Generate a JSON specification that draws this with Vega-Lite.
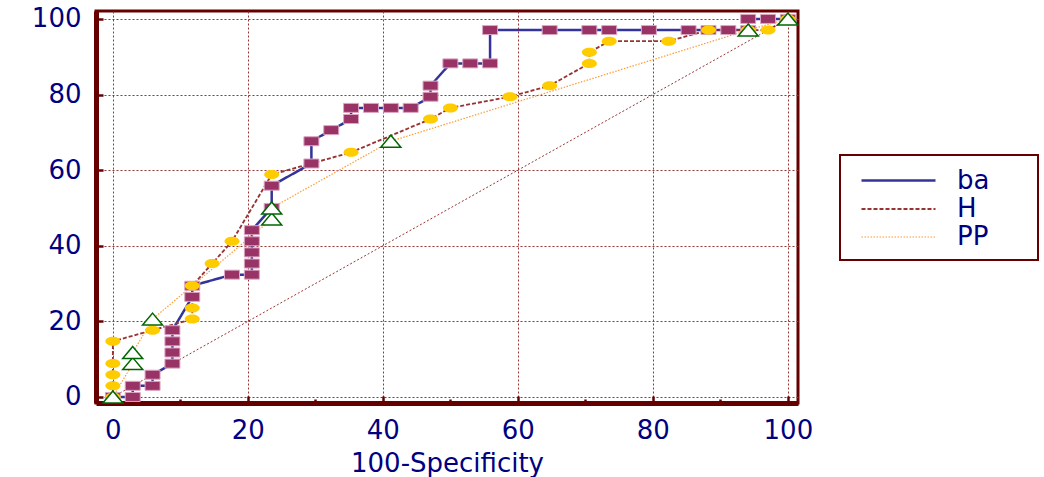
{
  "$schema": "https://vega.github.io/schema/vega-lite/v6.json",
  "width": 702,
  "height": 392,
  "autosize": {"type": "none"},
  "padding": {"left": 96, "top": 11, "right": 246, "bottom": 74},
  "background": "white",
  "datasets": {
    "roc": [
      {"series": "ba", "i": 0, "x": 0, "y": 0},
      {"series": "ba", "i": 1, "x": 2.94, "y": 0},
      {"series": "ba", "i": 2, "x": 2.94, "y": 2.94},
      {"series": "ba", "i": 3, "x": 5.88, "y": 2.94},
      {"series": "ba", "i": 4, "x": 5.88, "y": 5.88},
      {"series": "ba", "i": 5, "x": 8.82, "y": 8.82},
      {"series": "ba", "i": 6, "x": 8.82, "y": 11.76},
      {"series": "ba", "i": 7, "x": 8.82, "y": 14.71},
      {"series": "ba", "i": 8, "x": 8.82, "y": 17.65},
      {"series": "ba", "i": 9, "x": 11.76, "y": 26.47},
      {"series": "ba", "i": 10, "x": 11.76, "y": 29.41},
      {"series": "ba", "i": 11, "x": 17.65, "y": 32.35},
      {"series": "ba", "i": 12, "x": 20.59, "y": 32.35},
      {"series": "ba", "i": 13, "x": 20.59, "y": 35.29},
      {"series": "ba", "i": 14, "x": 20.59, "y": 38.24},
      {"series": "ba", "i": 15, "x": 20.59, "y": 41.18},
      {"series": "ba", "i": 16, "x": 20.59, "y": 44.12},
      {"series": "ba", "i": 17, "x": 23.53, "y": 50},
      {"series": "ba", "i": 18, "x": 23.53, "y": 55.88},
      {"series": "ba", "i": 19, "x": 29.41, "y": 61.76},
      {"series": "ba", "i": 20, "x": 29.41, "y": 67.65},
      {"series": "ba", "i": 21, "x": 32.35, "y": 70.59},
      {"series": "ba", "i": 22, "x": 35.29, "y": 73.53},
      {"series": "ba", "i": 23, "x": 35.29, "y": 76.47},
      {"series": "ba", "i": 24, "x": 38.24, "y": 76.47},
      {"series": "ba", "i": 25, "x": 41.18, "y": 76.47},
      {"series": "ba", "i": 26, "x": 44.12, "y": 76.47},
      {"series": "ba", "i": 27, "x": 47.06, "y": 79.41},
      {"series": "ba", "i": 28, "x": 47.06, "y": 82.35},
      {"series": "ba", "i": 29, "x": 50, "y": 88.24},
      {"series": "ba", "i": 30, "x": 52.94, "y": 88.24},
      {"series": "ba", "i": 31, "x": 55.88, "y": 88.24},
      {"series": "ba", "i": 32, "x": 55.88, "y": 97.06},
      {"series": "ba", "i": 33, "x": 64.71, "y": 97.06},
      {"series": "ba", "i": 34, "x": 70.59, "y": 97.06},
      {"series": "ba", "i": 35, "x": 73.53, "y": 97.06},
      {"series": "ba", "i": 36, "x": 79.41, "y": 97.06},
      {"series": "ba", "i": 37, "x": 85.29, "y": 97.06},
      {"series": "ba", "i": 38, "x": 88.24, "y": 97.06},
      {"series": "ba", "i": 39, "x": 91.18, "y": 97.06},
      {"series": "ba", "i": 40, "x": 94.12, "y": 97.06},
      {"series": "ba", "i": 41, "x": 94.12, "y": 100},
      {"series": "ba", "i": 42, "x": 97.06, "y": 100},
      {"series": "ba", "i": 43, "x": 100, "y": 100},
      {"series": "H", "i": 0, "x": 0, "y": 0},
      {"series": "H", "i": 1, "x": 0, "y": 2.94},
      {"series": "H", "i": 2, "x": 0, "y": 5.88},
      {"series": "H", "i": 3, "x": 0, "y": 8.82},
      {"series": "H", "i": 4, "x": 0, "y": 14.71},
      {"series": "H", "i": 5, "x": 5.88, "y": 17.65},
      {"series": "H", "i": 6, "x": 11.76, "y": 20.59},
      {"series": "H", "i": 7, "x": 11.76, "y": 23.53},
      {"series": "H", "i": 8, "x": 11.76, "y": 29.41},
      {"series": "H", "i": 9, "x": 14.71, "y": 35.29},
      {"series": "H", "i": 10, "x": 17.65, "y": 41.18},
      {"series": "H", "i": 11, "x": 23.53, "y": 58.82},
      {"series": "H", "i": 12, "x": 35.29, "y": 64.71},
      {"series": "H", "i": 13, "x": 47.06, "y": 73.53},
      {"series": "H", "i": 14, "x": 50, "y": 76.47},
      {"series": "H", "i": 15, "x": 58.82, "y": 79.41},
      {"series": "H", "i": 16, "x": 64.71, "y": 82.35},
      {"series": "H", "i": 17, "x": 70.59, "y": 88.24},
      {"series": "H", "i": 18, "x": 70.59, "y": 91.18},
      {"series": "H", "i": 19, "x": 73.53, "y": 94.12},
      {"series": "H", "i": 20, "x": 82.35, "y": 94.12},
      {"series": "H", "i": 21, "x": 88.24, "y": 97.06},
      {"series": "H", "i": 22, "x": 94.12, "y": 97.06},
      {"series": "H", "i": 23, "x": 97.06, "y": 97.06},
      {"series": "H", "i": 24, "x": 100, "y": 100},
      {"series": "PP", "i": 0, "x": 0, "y": 0},
      {"series": "PP", "i": 1, "x": 2.94, "y": 8.82},
      {"series": "PP", "i": 2, "x": 2.94, "y": 11.76},
      {"series": "PP", "i": 3, "x": 5.88, "y": 20.59},
      {"series": "PP", "i": 4, "x": 23.53, "y": 47.06},
      {"series": "PP", "i": 5, "x": 23.53, "y": 50},
      {"series": "PP", "i": 6, "x": 41.18, "y": 67.65},
      {"series": "PP", "i": 7, "x": 94.12, "y": 97.06},
      {"series": "PP", "i": 8, "x": 100, "y": 100}
    ],
    "diag": [
      {"x": 0, "y": 0},
      {"x": 100, "y": 100}
    ]
  },
  "data": {"name": "roc"},
  "layer": [
    {
      "data": {"name": "diag"},
      "mark": {"type": "line", "color": "#993333", "strokeWidth": 1, "strokeDash": [2, 2]},
      "encoding": {
        "x": {
          "field": "x", "type": "quantitative",
          "scale": {"domain": [-2.5, 101.5], "nice": false, "zero": false},
          "axis": {
            "title": "100-Specificity",
            "values": [0, 5, 10, 15, 20, 25, 30, 35, 40, 45, 50, 55, 60, 65, 70, 75, 80, 85, 90, 95, 100],
            "labelExpr": "datum.value % 20 === 0 ? datum.label : ''",
            "gridOpacity": {"condition": {"test": "datum.value % 20 === 0", "value": 1}, "value": 0},
            "tickSize": {"condition": {"test": "datum.value % 20 === 0", "value": -7}, "value": -4},
            "labelPadding": 21,
            "titlePadding": 7
          }
        },
        "y": {
          "field": "y", "type": "quantitative",
          "scale": {"domain": [-1.6, 102.1], "nice": false, "zero": false},
          "axis": {
            "title": null,
            "values": [0, 5, 10, 15, 20, 25, 30, 35, 40, 45, 50, 55, 60, 65, 70, 75, 80, 85, 90, 95, 100],
            "labelExpr": "datum.value % 20 === 0 ? datum.label : ''",
            "gridOpacity": {"condition": {"test": "datum.value % 20 === 0", "value": 1}, "value": 0},
            "tickSize": {"condition": {"test": "datum.value % 20 === 0", "value": -7}, "value": -4},
            "labelPadding": 22
          }
        }
      }
    },
    {
      "mark": {"type": "line"},
      "encoding": {
        "x": {"field": "x", "type": "quantitative"},
        "y": {"field": "y", "type": "quantitative"},
        "order": {"field": "i", "type": "quantitative"},
        "color": {
          "field": "series", "type": "nominal", "title": null,
          "scale": {"domain": ["ba", "H", "PP"], "range": ["#333399", "#993333", "#ff9933"]},
          "legend": {"labelExpr": "datum.label + '\u2800\u2800'"}
        },
        "strokeDash": {
          "field": "series", "type": "nominal", "title": null,
          "scale": {"domain": ["ba", "H", "PP"], "range": [[1, 0], [4, 2], [1.5, 1.5]]}
        },
        "strokeWidth": {
          "field": "series", "type": "nominal", "title": null,
          "scale": {"domain": ["ba", "H", "PP"], "range": [2.5, 1.2, 1.2]}
        }
      }
    },
    {
      "transform": [{"filter": "datum.series === 'ba'"}],
      "mark": {"type": "point", "filled": true, "fill": "#993366", "stroke": "#dba6c2", "strokeWidth": 1, "opacity": 1, "size": 225,
        "shape": "M-1,-0.6L1,-0.6L1,0.6L-1,0.6Z"},
      "encoding": {
        "x": {"field": "x", "type": "quantitative"},
        "y": {"field": "y", "type": "quantitative"}
      }
    },
    {
      "transform": [{"filter": "datum.series === 'H'"}],
      "mark": {"type": "point", "filled": true, "fill": "#ffcc00", "strokeWidth": 0, "opacity": 1, "size": 225,
        "shape": "M-1,0A1,0.6 0 1,0 1,0A1,0.6 0 1,0 -1,0Z"},
      "encoding": {
        "x": {"field": "x", "type": "quantitative"},
        "y": {"field": "y", "type": "quantitative"}
      }
    },
    {
      "transform": [{"filter": "datum.series === 'PP'"}],
      "mark": {"type": "point", "filled": false, "fill": "white", "fillOpacity": 1, "stroke": "#006600", "strokeWidth": 1.5, "opacity": 1, "size": 400,
        "shape": "M0,-0.6L1,0.6L-1,0.6Z"},
      "encoding": {
        "x": {"field": "x", "type": "quantitative"},
        "y": {"field": "y", "type": "quantitative"}
      }
    }
  ],
  "config": {
    "view": {"stroke": "#660000", "strokeWidth": 3},
    "font": "DejaVu Sans",
    "axis": {
      "domainColor": "#660000",
      "domainWidth": 5,
      "tickColor": "#660000",
      "tickWidth": 2.5,
      "gridColor": "#993333",
      "gridDash": [2, 2],
      "gridWidth": 1,
      "labelFont": "DejaVu Sans",
      "labelFontSize": 26,
      "labelColor": "#000080",
      "titleFont": "DejaVu Sans",
      "titleFontSize": 26,
      "titleFontWeight": "normal",
      "titleColor": "#000080"
    },
    "legend": {
      "orient": "none",
      "legendX": 744,
      "legendY": 144,
      "symbolType": "M-0.286,0L5,0",
      "symbolSize": 784,
      "symbolFillColor": "transparent",
      "labelFont": "DejaVu Sans",
      "labelFontSize": 26,
      "labelColor": "#000080",
      "labelOffset": 76,
      "padding": 10,
      "rowPadding": 0,
      "strokeColor": "#660000",
      "strokeWidth": 2,
      "fillColor": "white",
      "labelLimit": 300
    }
  }
}
